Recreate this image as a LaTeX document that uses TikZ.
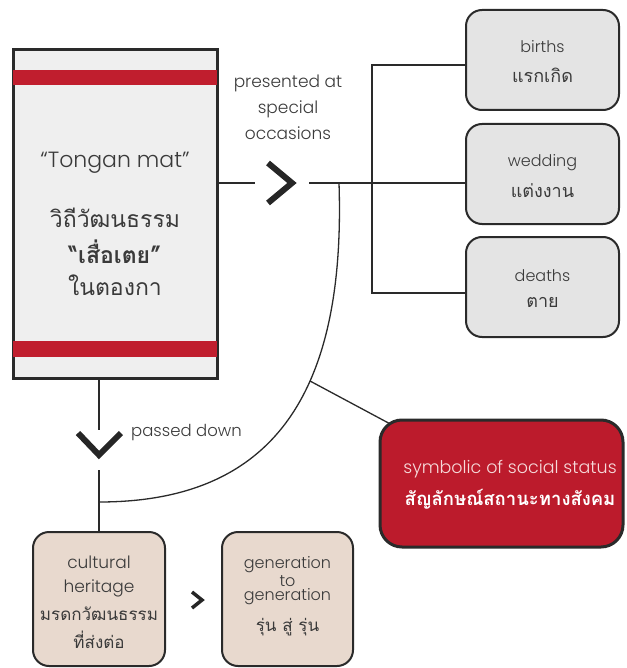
\documentclass[tikz,border=0pt]{standalone}
\usepackage{fontspec}
\setmainfont{Poppins}[UprightFont=* Light, BoldFont=* Medium]
\newfontfamily\thai[Script=Thai]{Loma}
\usetikzlibrary{backgrounds,calc}
\definecolor{ink}{HTML}{2A2A2A}
\definecolor{txt}{HTML}{3A3A3A}
\definecolor{matfill}{HTML}{EFEFEF}
\definecolor{matred}{HTML}{C01E2E}
\definecolor{greybox}{HTML}{E4E4E4}
\definecolor{beige}{HTML}{E8D9CE}
\definecolor{redbox}{HTML}{BC1B2C}
\definecolor{pinktxt}{HTML}{F6DADA}
\tikzset{
  matbox/.style={draw=ink, line width=3pt, fill=matfill, minimum width=204pt, minimum height=328pt, inner sep=0pt},
  gbox/.style={draw=ink, line width=2pt, fill=greybox, rounded corners=16pt, minimum width=153pt, minimum height=100pt, inner sep=0pt},
  bbox/.style={draw=ink, line width=2pt, fill=beige, rounded corners=16pt, minimum width=132pt, minimum height=134pt, inner sep=0pt},
  rbox/.style={draw=ink, line width=3pt, fill=redbox, rounded corners=22pt, minimum width=243pt, minimum height=127pt, inner sep=0pt},
  conn/.style={draw=ink, line width=1.3pt},
  chev/.style={draw=ink!90!black, line width=6pt, miter limit=10, line join=miter},
  smallchev/.style={draw=ink!90!black, line width=3.5pt, line join=miter},
  lbl/.style={text=txt, align=center, inner sep=0pt},
}
\begin{document}
\begin{tikzpicture}[x=1pt,y=1pt]
\useasboundingbox (0,0) rectangle (626,-668);
% mat
\node[matbox] (mat) at (115,-214) {};
\fill[matred] ($(mat.north west)+(1.5,-22)$) rectangle ($(mat.north east)+(-1.5,-37)$);
\fill[matred] ($(mat.south west)+(1.5,23)$) rectangle ($(mat.south east)+(-1.5,39)$);
\node[lbl, font=\fontsize{22}{24}\selectfont] (t1) at (115,-163) {“Tongan mat”};
\node[lbl, font=\thai\fontsize{23}{26}\selectfont] (t2) at (115,-218) {วิถีวัฒนธรรม};
\node[lbl, font=\thai\bfseries\fontsize{23}{26}\selectfont] (t3) at (115,-252) {“เสื่อเตย”};
\node[lbl, font=\thai\fontsize{23}{26}\selectfont] (t4) at (115,-285) {ในตองกา};
% presented text
\node[lbl, font=\fontsize{17}{26}\selectfont] (pres) at (288,-107) {presented at\\special\\occasions};
% right boxes
\node[gbox] (births) at (542.5,-60) {};
\node[lbl, font=\fontsize{16}{28}\selectfont] at (542.5,-47) {births};
\node[lbl, font=\thai\fontsize{18}{28}\selectfont] at (542.5,-75) {แรกเกิด};
\node[gbox] (wed) at (542.5,-174) {};
\node[lbl, font=\fontsize{16}{28}\selectfont] at (542.5,-163) {wedding};
\node[lbl, font=\thai\fontsize{18}{28}\selectfont] at (542.5,-191) {แต่งงาน};
\node[gbox] (death) at (542.5,-287) {};
\node[lbl, font=\fontsize{16}{28}\selectfont] at (542.5,-276) {deaths};
\node[lbl, font=\thai\fontsize{18}{28}\selectfont] at (542.5,-302) {ตาย};
% red box
\node[rbox] (red) at (501.5,-483.5) {};
\node[lbl, text=pinktxt, font=\fontsize{17.5}{20}\selectfont] at (510,-469) {symbolic of social status};
\node[lbl, text=white, font=\thai\bfseries\fontsize{18.5}{20}\selectfont] at (510,-499) {สัญลักษณ์สถานะทางสังคม};
% bottom boxes
\node[bbox] (her) at (99,-599) {};
\node[lbl, font=\fontsize{17}{20}\selectfont] at (99,-562) {cultural};
\node[lbl, font=\fontsize{17}{20}\selectfont] at (99,-588) {heritage};
\node[lbl, font=\thai\fontsize{17}{20}\selectfont] at (99,-614) {มรดกวัฒนธรรม};
\node[lbl, font=\thai\fontsize{17}{20}\selectfont] at (99,-640) {ที่ส่งต่อ};
\node[bbox, minimum width=131pt] (gen) at (287.5,-599) {};
\node[lbl, font=\fontsize{16}{15}\selectfont] at (287.5,-565) {generation};
\node[lbl, font=\fontsize{16}{15}\selectfont] at (287.5,-581) {to};
\node[lbl, font=\fontsize{16}{15}\selectfont] at (287.5,-597) {generation};
\node[lbl, font=\thai\fontsize{17}{20}\selectfont] at (287.5,-627) {รุ่น สู่ รุ่น};
% passed down
\node[lbl, font=\fontsize{16.5}{20}\selectfont, anchor=west] (pd) at (131,-433) {passed down};
% chevrons
\coordinate (c1) at (280,-183);
\draw[chev] ($(c1)+(-12,20)$) -- ($(c1)+(12,0)$) -- ($(c1)+(-12,-20)$);
\coordinate (c1in) at (255,-183);
\coordinate (c1out) at (309,-183);
\coordinate (v) at (99,-445);
\draw[chev] ($(v)+(-21,12)$) -- ($(v)+(0,-10)$) -- ($(v)+(22,12)$);
\coordinate (vin) at (99,-430);
\coordinate (vout) at (99,-470);
\coordinate (c2) at (197,-600);
\draw[smallchev] ($(c2)+(-5,8)$) -- ($(c2)+(5,0)$) -- ($(c2)+(-5,-8)$);
% bracket
\coordinate (bk) at (372,-183);
\coordinate (bk1) at (372,-65);
\coordinate (bk3) at (372,-293);
\coordinate (as) at (339,-183);
\coordinate (ae) at (99,-502);
\coordinate (k) at (310,-381);
\begin{scope}[on background layer]
  \draw[conn] (mat.east |- c1) -- (c1in);
  \draw[conn] (c1out) -- (bk);
  \draw[conn] (bk) -- (bk -| wed.west);
  \draw[conn] (bk1 -| births.west) -- (bk1) -- (bk3) -- (bk3 -| death.west);
  \draw[conn] (mat.south -| vin) -- (vin);
  \draw[conn] (vout) -- (her.north);
  \draw[conn] (as) .. controls (346,-395) and (272,-502) .. (ae);
  \draw[conn] (k) -- (red.center);
\end{scope}
\end{tikzpicture}
\end{document}
